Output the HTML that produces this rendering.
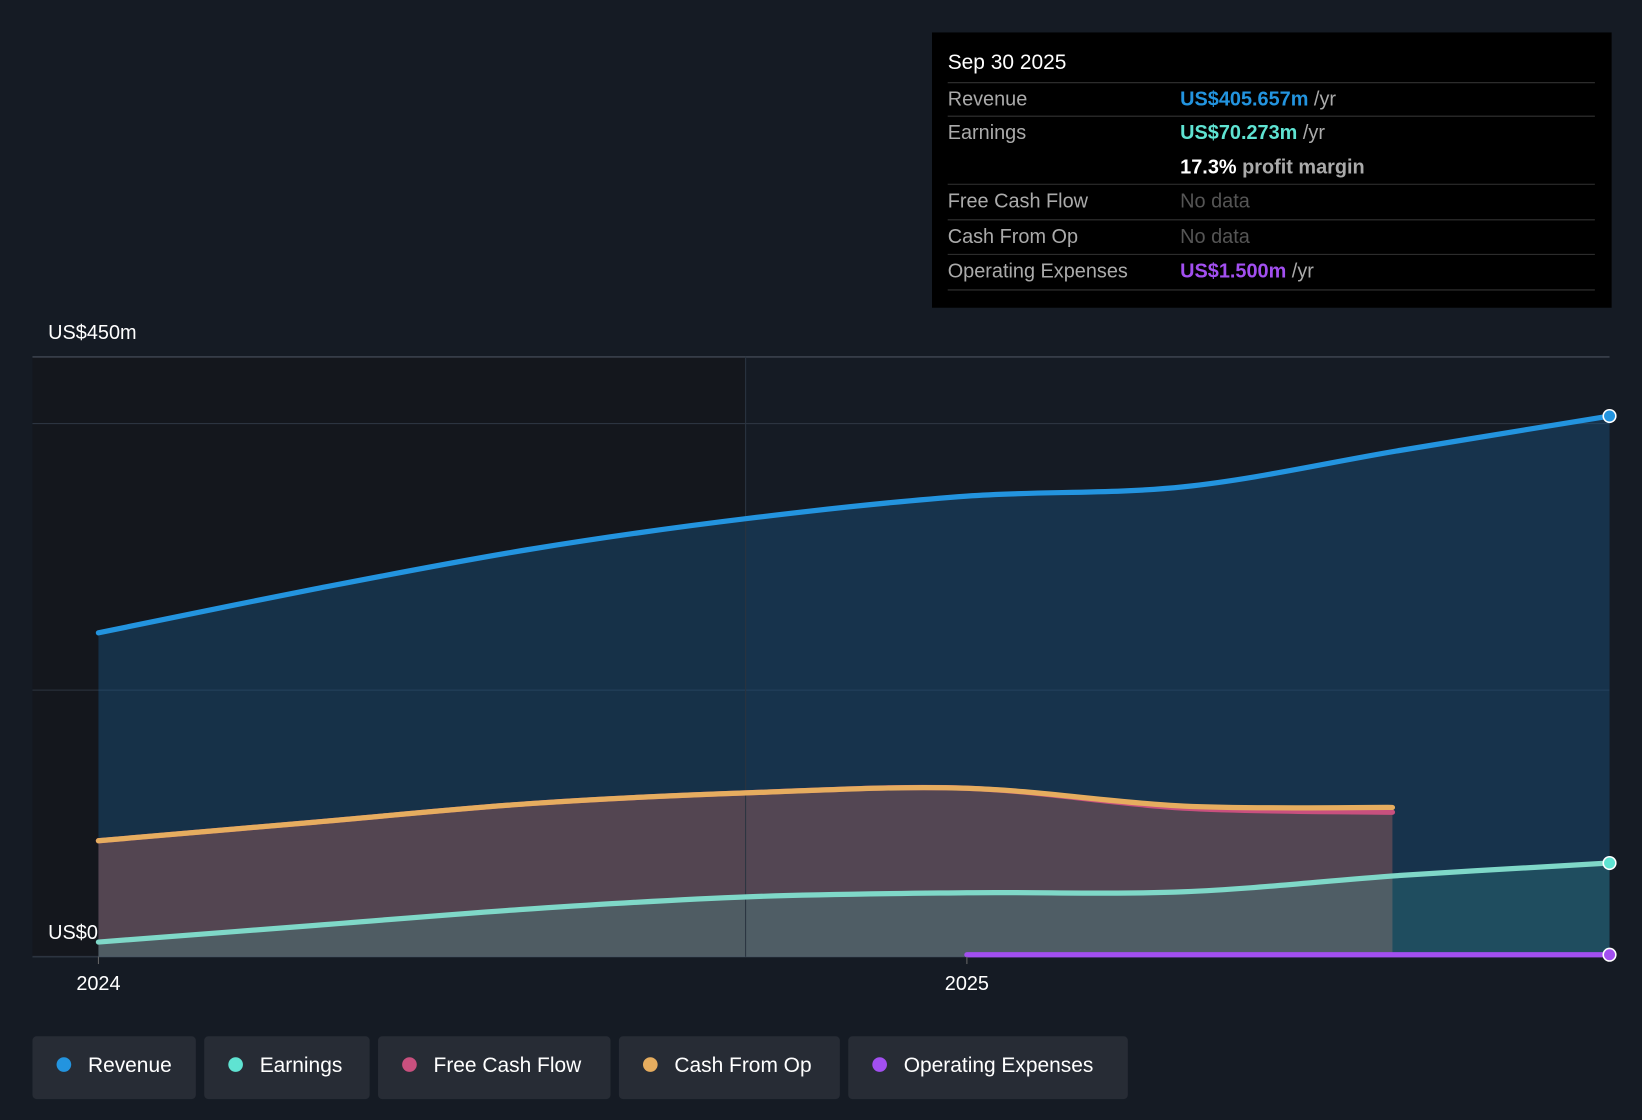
<!DOCTYPE html>
<html><head><meta charset="utf-8"><style>
html,body{margin:0;padding:0;background:#151b24;}
svg{display:block;font-family:"Liberation Sans",Arial,sans-serif;}
</style></head><body>
<svg id="chart" width="1642" height="1120" viewBox="0 0 1568 1070" preserveAspectRatio="none" xmlns="http://www.w3.org/2000/svg">
<rect x="0" y="0" width="1568" height="1070" fill="#151b24"/>
<rect x="31" y="341" width="681" height="573" fill="#14171d"/>
<g id="grid"></g>
<g id="series"></g>
<g id="axes"></g>
<g>
<rect x="890" y="31" width="649" height="263" fill="#000"/>
<text x="905" y="66" fill="#fff" font-size="20">Sep 30 2025</text>
<line x1="905" x2="1523" y1="79" y2="79" stroke="#333"/>
<text x="905" y="101" fill="#aaa" font-size="19">Revenue</text>
<text x="1127" y="101" font-size="19" font-weight="bold" fill="#2394df">US$405.657m <tspan fill="#aaa" font-weight="normal">/yr</tspan></text>
<line x1="905" x2="1523" y1="111" y2="111" stroke="#333"/>
<text x="905" y="133" fill="#aaa" font-size="19">Earnings</text>
<text x="1127" y="133" font-size="19" font-weight="bold" fill="#5fe3d2">US$70.273m <tspan fill="#aaa" font-weight="normal">/yr</tspan></text>
<text x="1127" y="166" font-size="19" font-weight="bold" fill="#fff">17.3% <tspan fill="#aaa">profit margin</tspan></text>
<line x1="905" x2="1523" y1="176" y2="176" stroke="#333"/>
<text x="905" y="198" fill="#aaa" font-size="19">Free Cash Flow</text>
<text x="1127" y="198" fill="#555" font-size="19">No data</text>
<line x1="905" x2="1523" y1="210" y2="210" stroke="#333"/>
<text x="905" y="232" fill="#aaa" font-size="19">Cash From Op</text>
<text x="1127" y="232" fill="#555" font-size="19">No data</text>
<line x1="905" x2="1523" y1="243" y2="243" stroke="#333"/>
<text x="905" y="265" fill="#aaa" font-size="19">Operating Expenses</text>
<text x="1127" y="265" font-size="19" font-weight="bold" fill="#a24ff0">US$1.500m <tspan fill="#aaa" font-weight="normal">/yr</tspan></text>
<line x1="905" x2="1523" y1="277" y2="277" stroke="#333"/>
</g>
<g id="legend"></g>
</svg>
<script>
const yTicks=[0,200,400,450];
const revDates=[2024.0,2024.25,2024.5,2024.75,2025.0,2025.25,2025.5,2025.74];
const revenue=[243,276,306,329,345.6,352.6,380,405.657];
const earnings=[11,23.5,36,45,48,48.7,61,70.273];
const cfDates=[2024.0,2024.25,2024.5,2024.75,2025.0,2025.25,2025.49];
const cashFromOp=[87,101,115,123,126.4,113,112];
const freeCashFlow=[87,101,115,123,126.4,111.5,108.4];
const opexDates=[2025.0,2025.74];
const opex=[1.5,1.5];
const xTickLabels=["2024","2025"];
const xTickVals=[2024,2025];
const NS="http://www.w3.org/2000/svg";
function xs(t){return 94+(t-2024)*((1537-94)/1.74);}
function ys(v){return 914-v*(573/450);}
function el(tag,attrs,parent){const e=document.createElementNS(NS,tag);for(const k in attrs)e.setAttribute(k,attrs[k]);parent.appendChild(e);return e;}
function curve(dates,vals){const p=dates.map((d,i)=>[xs(d),ys(vals[i])]);let s="M"+p[0][0]+","+p[0][1];
for(let i=0;i<p.length-1;i++){const p0=p[i-1]||p[i],p1=p[i],p2=p[i+1],p3=p[i+2]||p2;
s+=` C${p1[0]+(p2[0]-p0[0])/6},${p1[1]+(p2[1]-p0[1])/6} ${p2[0]-(p3[0]-p1[0])/6},${p2[1]-(p3[1]-p1[1])/6} ${p2[0]},${p2[1]}`;}return s;}
function area(dates,vals){return curve(dates,vals)+` L${xs(dates[dates.length-1])},${ys(0)} L${xs(dates[0])},${ys(0)} Z`;}
const grid=document.getElementById('grid');
yTicks.forEach(v=>{const l=el('line',{x1:31,x2:1537,y1:ys(v),y2:ys(v),stroke:v===450?'#4a525e':'#2c3440','stroke-width':v===0?1.5:1},grid);

});
const S=document.getElementById('series');
let a=el('path',{d:area(revDates,revenue),fill:'#1b5585','fill-opacity':0.42},S);

a=el('path',{d:area(cfDates,cashFromOp),fill:'#b0655e','fill-opacity':0.4},S);

a=el('path',{d:area(revDates,earnings),fill:'#3fb8b0','fill-opacity':0.2},S);

el('line',{x1:712,x2:712,y1:341,y2:914,stroke:'#2a3440','stroke-width':1},S);
function line(d,v,c,name){const p=el('path',{d:curve(d,v),fill:'none',stroke:c,'stroke-width':5,'stroke-linecap':'round'},S);

}
line(cfDates,freeCashFlow,'#c8507e','free-cash-flow-line');
line(cfDates,cashFromOp,'#e6ad5f','cash-from-op-line');
line(revDates,earnings,'#7fd8c8','earnings-line');
line(revDates,revenue,'#2394df','revenue-line');
line(opexDates,opex,'#a24ff0','operating-expenses-line');
[[revDates,revenue,'#2394df','revenue-end-dot'],[revDates,earnings,'#5fe3d2','earnings-end-dot'],[opexDates,opex,'#a24ff0','opex-end-dot']].forEach(([d,v,c,n])=>{
const e=el('circle',{cx:xs(d[d.length-1]),cy:ys(v[v.length-1]),r:6,fill:c,stroke:'#fff','stroke-width':1.5},S);

});
const A=document.getElementById('axes');
let t=el('text',{x:46,y:324,fill:'#fff','font-size':19},A);t.textContent='US$450m';

t=el('text',{x:46,y:897,fill:'#fff','font-size':19},A);t.textContent='US$0';

xTickVals.forEach((v,i)=>{el('line',{x1:xs(v),x2:xs(v),y1:914,y2:921,stroke:'#666'},A);
const tx=el('text',{x:xs(v),y:946,fill:'#fff','font-size':19,'text-anchor':'middle'},A);tx.textContent=xTickLabels[i];

});
const L=document.getElementById('legend');
[['Revenue','#2394df',31,156],['Earnings','#5fe3d2',195,158],['Free Cash Flow','#c8507e',361,222],['Cash From Op','#e6ad5f',591,211],['Operating Expenses','#a24ff0',810,267]].forEach(([n,c,x,w])=>{
const g=el('g',{},L);


el('rect',{x:x,y:990,width:w,height:60,rx:4,fill:'#272c35'},g);
el('circle',{cx:x+30,cy:1017,r:7,fill:c},g);
const tt=el('text',{x:x+53,y:1024,fill:'#fff','font-size':20},g);tt.textContent=n;});
</script>
</body></html>
